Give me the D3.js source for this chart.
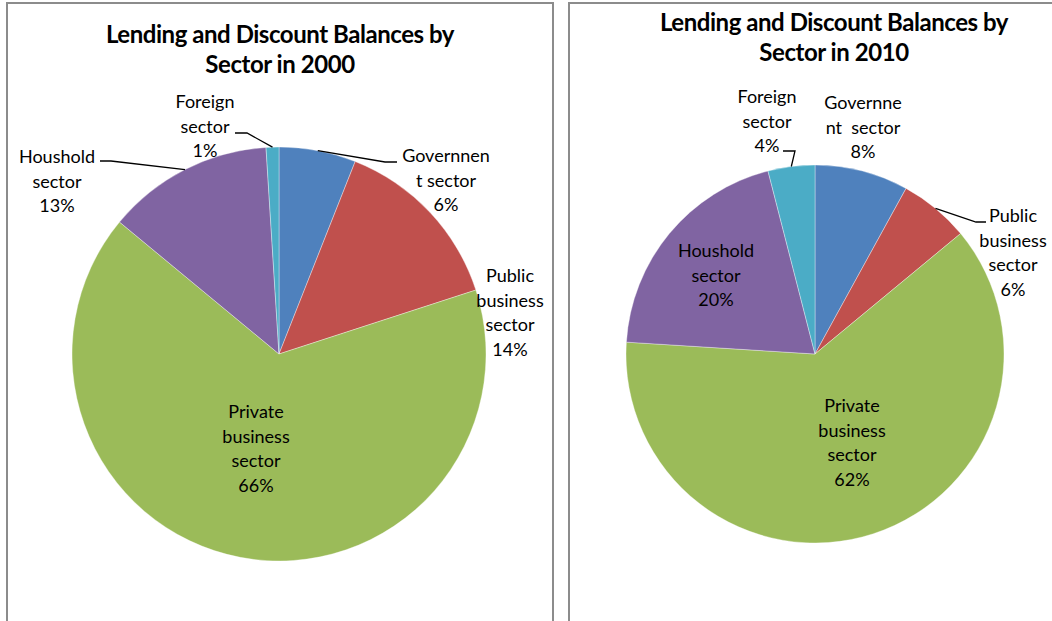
<!DOCTYPE html>
<html>
<head>
<meta charset="utf-8">
<script src="https://cdn.jsdelivr.net/npm/d3@7"></script>
<style>
  html, body { margin: 0; padding: 0; background: #fff; }
  svg { display: block; }
  .title { font-family: Lato, "Liberation Sans", sans-serif; font-weight: 700; font-size: 24px; letter-spacing: -0.45px; fill: #000; }
  .lbl { font-family: Lato, "Liberation Sans", sans-serif; font-size: 18px; fill: #000; }
</style>
</head>
<body>
<svg id="chart" width="1052" height="621"></svg>
<script>
// Sector shares of lending and discount balances (percent)
const categories = ["Governnent sector", "Public business sector", "Private business sector", "Houshold sector", "Foreign sector"];
const share2000 = [6, 14, 66, 13, 1];
const share2010 = [8, 6, 62, 20, 4];
const titles2000 = ["Lending and Discount Balances by", "Sector in 2000"];
const titles2010 = ["Lending and Discount Balances by", "Sector in 2010"];
// How each category name wraps inside its data label
const wrap2000 = [["Governnen", "t sector"], ["Public", "business", "sector"], ["Private", "business", "sector"], ["Houshold", "sector"], ["Foreign", "sector"]];
const wrap2010 = [["Governne", "nt  sector"], ["Public", "business", "sector"], ["Private", "business", "sector"], ["Houshold", "sector"], ["Foreign", "sector"]];

const colors = ["#4F81BD", "#C0504D", "#9BBB59", "#8064A2", "#4BACC6"];
const color = d3.scaleOrdinal().domain(categories).range(colors);

// Panel layouts: frame, title, pie geometry, label anchors and leader stubs
const panels = [
  {
    frame: { x: 7, y: 3, w: 546, h: 660 },
    title: { x: 280, y: 43, lines: titles2000 },
    cx: 279, cy: 354, r: 207,
    values: share2000, wrap: wrap2000,
    labels: [
      { x: 446, y: 162, stub: [[397, 162], [385, 162]] },
      { x: 510, y: 282 },
      { x: 256, y: 418 },
      { x: 57,  y: 163, stub: [[100, 161], [111, 161]] },
      { x: 205, y: 108, stub: [[235, 133], [247, 133]] }
    ]
  },
  {
    frame: { x: 569, y: 3, w: 520, h: 660 },
    title: { x: 834, y: 31, lines: titles2010 },
    cx: 815, cy: 354, r: 189,
    values: share2010, wrap: wrap2010,
    labels: [
      { x: 863, y: 109 },
      { x: 1013, y: 222, stub: [[986, 222], [976, 222]] },
      { x: 852, y: 412 },
      { x: 716, y: 257 },
      { x: 767, y: 103, stub: [[783, 151], [795, 151]] }
    ]
  }
];

const svg = d3.select("#chart");
const lineH = 24.5;

const pie = d3.pie().sort(null).value(d => d.value);

panels.forEach(p => {
  svg.append("rect")
    .attr("x", p.frame.x).attr("y", p.frame.y)
    .attr("width", p.frame.w).attr("height", p.frame.h)
    .attr("fill", "#fff").attr("stroke", "#8c8c8c").attr("stroke-width", 2);

  const t = svg.append("text").attr("class", "title").attr("text-anchor", "middle");
  p.title.lines.forEach((s, i) => {
    t.append("tspan").attr("x", p.title.x).attr("y", p.title.y + i * 30).text(s);
  });

  const data = categories.map((c, i) => ({ name: c, value: p.values[i], wrap: p.wrap[i], lab: p.labels[i] }));
  const arcs = pie(data);
  const arc = d3.arc().innerRadius(0).outerRadius(p.r);

  const g = svg.append("g").attr("transform", `translate(${p.cx},${p.cy})`);
  g.selectAll("path").data(arcs).join("path")
    .attr("d", arc)
    .attr("fill", d => color(d.data.name))
    .attr("stroke", "#fff").attr("stroke-width", 0.6).attr("stroke-opacity", 0.6);

  arcs.forEach(a => {
    const lab = a.data.lab;
    if (lab.stub) {
      const mid = (a.startAngle + a.endAngle) / 2;
      const rim = [p.cx + p.r * Math.sin(mid), p.cy - p.r * Math.cos(mid)];
      svg.append("polyline")
        .attr("points", [...lab.stub, rim].map(q => q.join(",")).join(" "))
        .attr("fill", "none").attr("stroke", "#000").attr("stroke-width", 1.3);
    }
    const lines = [...a.data.wrap, a.data.value + "%"];
    const txt = svg.append("text").attr("class", "lbl").attr("text-anchor", "middle");
    lines.forEach((s, i) => {
      txt.append("tspan").attr("x", lab.x).attr("y", lab.y + i * lineH)
        .attr("xml:space", "preserve").style("white-space", "pre").text(s);
    });
  });
});
</script>
</body>
</html>
